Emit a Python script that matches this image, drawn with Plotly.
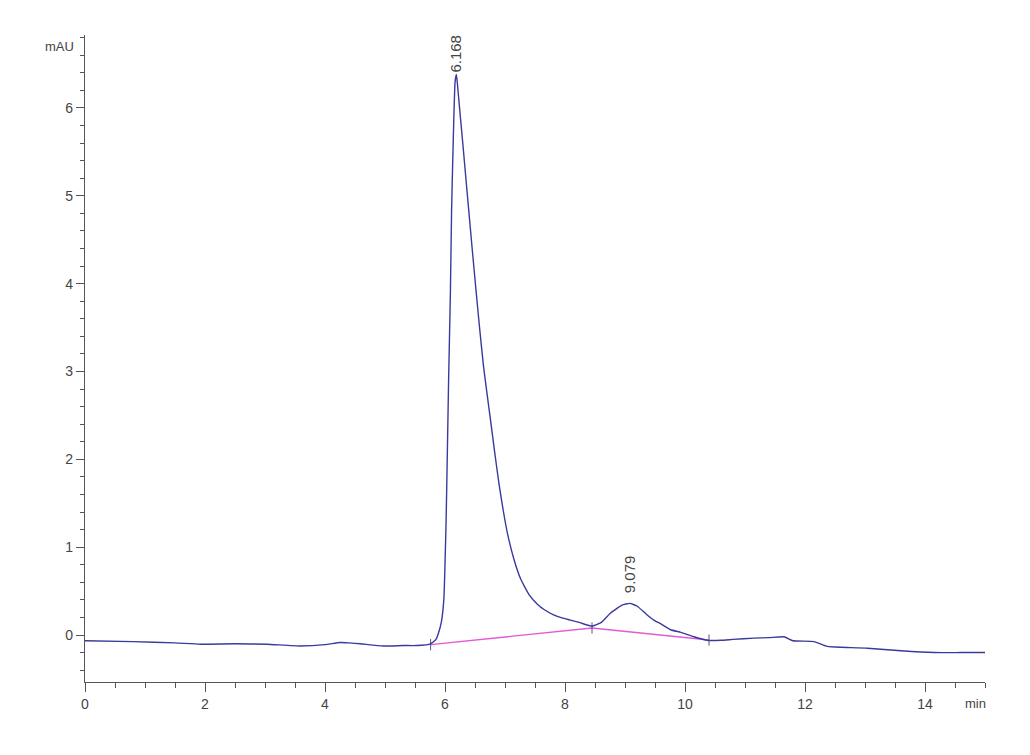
import plotly.graph_objects as go

# Chromatogram signal (min, mAU)
time_min = [0, 0.8, 1.5, 1.92, 2.5, 3.03, 3.59, 4.0, 4.25, 4.4, 4.59, 4.97, 5.3, 5.53, 5.76,
            5.85, 5.89, 5.94, 5.98, 6.02, 6.06, 6.09, 6.11, 6.14, 6.168, 6.19, 6.21, 6.24, 6.3,
            6.37, 6.45, 6.52, 6.58, 6.64, 6.7, 6.76, 6.83, 6.90, 6.97, 7.04, 7.15, 7.26, 7.4,
            7.54, 7.65, 7.81, 7.95, 8.09, 8.25, 8.45, 8.6, 8.76, 8.95, 9.079,
            9.2, 9.35, 9.48, 9.59, 9.76, 9.93, 10.15, 10.37, 10.6, 10.8, 11.15, 11.4, 11.65,
            11.8, 12.15, 12.37, 12.6, 13.04, 13.6, 14.15, 14.6, 15.0]
signal_mau = [-0.065, -0.075, -0.09, -0.105, -0.10, -0.105, -0.125, -0.11, -0.085, -0.09, -0.10,
              -0.125, -0.12, -0.12, -0.10, -0.05, 0.02, 0.15, 0.40, 1.35, 2.9, 3.9, 4.84, 5.7,
              6.3, 6.38, 6.25, 6.02, 5.57, 5.03, 4.42, 3.9, 3.47, 3.07, 2.75, 2.44, 2.07, 1.72,
              1.42, 1.16, 0.86, 0.64, 0.46, 0.35, 0.29, 0.23, 0.195, 0.17, 0.14,
              0.10, 0.14, 0.25, 0.34, 0.36, 0.33, 0.24, 0.17, 0.13, 0.06, 0.03, -0.02, -0.06,
              -0.06, -0.05, -0.035, -0.03, -0.02, -0.065, -0.075, -0.13, -0.14, -0.15, -0.18,
              -0.20, -0.20, -0.20]

# Integration baseline points
base_time = [5.76, 8.45, 10.4]
base_mau = [-0.11, 0.08, -0.057]

# Peak labels
peak_time = [6.168, 9.079]
peak_mau = [6.38, 0.45]
peak_text = ["6.168", "9.079"]

line_col = "#3a3a9c"
pink = "#e25ad8"
axis_col = "#555555"
font_col = "#444444"

fig = go.Figure()
fig.add_trace(go.Scatter(x=base_time, y=base_mau, mode="lines+markers",
                         line=dict(color=pink, width=1.4),
                         marker=dict(symbol="line-ns", size=8, line=dict(color="#555577", width=1)),
                         hoverinfo="skip"))
fig.add_trace(go.Scatter(x=time_min, y=signal_mau, mode="lines",
                         line=dict(color=line_col, width=1.4, shape="spline", smoothing=0.4)))

for t, v, s in zip(peak_time, peak_mau, peak_text):
    fig.add_annotation(x=t, y=v, text=s, showarrow=False, textangle=-90,
                       xanchor="center", yanchor="bottom",
                       font=dict(family="Liberation Sans, Arial, sans-serif", size=15, color=font_col))

fig.add_annotation(xref="paper", yref="paper", x=-0.01, y=1.0, text="mAU", showarrow=False,
                   xanchor="right", yanchor="top", yshift=-2,
                   font=dict(family="Liberation Sans Narrow, Arial Narrow, sans-serif", size=13, color=font_col))
fig.add_annotation(xref="paper", yref="paper", x=1.0, y=0, text="min", showarrow=False,
                   xanchor="right", yanchor="top", yshift=-12, xshift=3,
                   font=dict(family="Liberation Sans Narrow, Arial Narrow, sans-serif", size=13, color=font_col))

fig.update_layout(
    width=1030, height=755,
    margin=dict(l=77, r=53, t=27, b=81),
    paper_bgcolor="white", plot_bgcolor="white",
    showlegend=False,
    font=dict(family="Liberation Sans, Arial, sans-serif", size=14, color=font_col),
    xaxis=dict(range=[0, 15], tickmode="array", tickvals=[0, 2, 4, 6, 8, 10, 12, 14],
               ticks="outside", ticklen=9, tickcolor=axis_col, showline=True, linecolor=axis_col,
               linewidth=1.3, showgrid=False, zeroline=False,
               minor=dict(dtick=0.5, ticks="outside", ticklen=5, tickcolor=axis_col, showgrid=False)),
    yaxis=dict(range=[-0.535, 6.83], tickmode="array", tickvals=[0, 1, 2, 3, 4, 5, 6],
               ticks="outside", ticklen=8, tickcolor=axis_col, showline=True, linecolor=axis_col,
               linewidth=1.3, showgrid=False, zeroline=False,
               minor=dict(dtick=0.2, tick0=0, ticks="outside", ticklen=4, tickcolor=axis_col, showgrid=False)),
)

fig.write_html("out.html")
